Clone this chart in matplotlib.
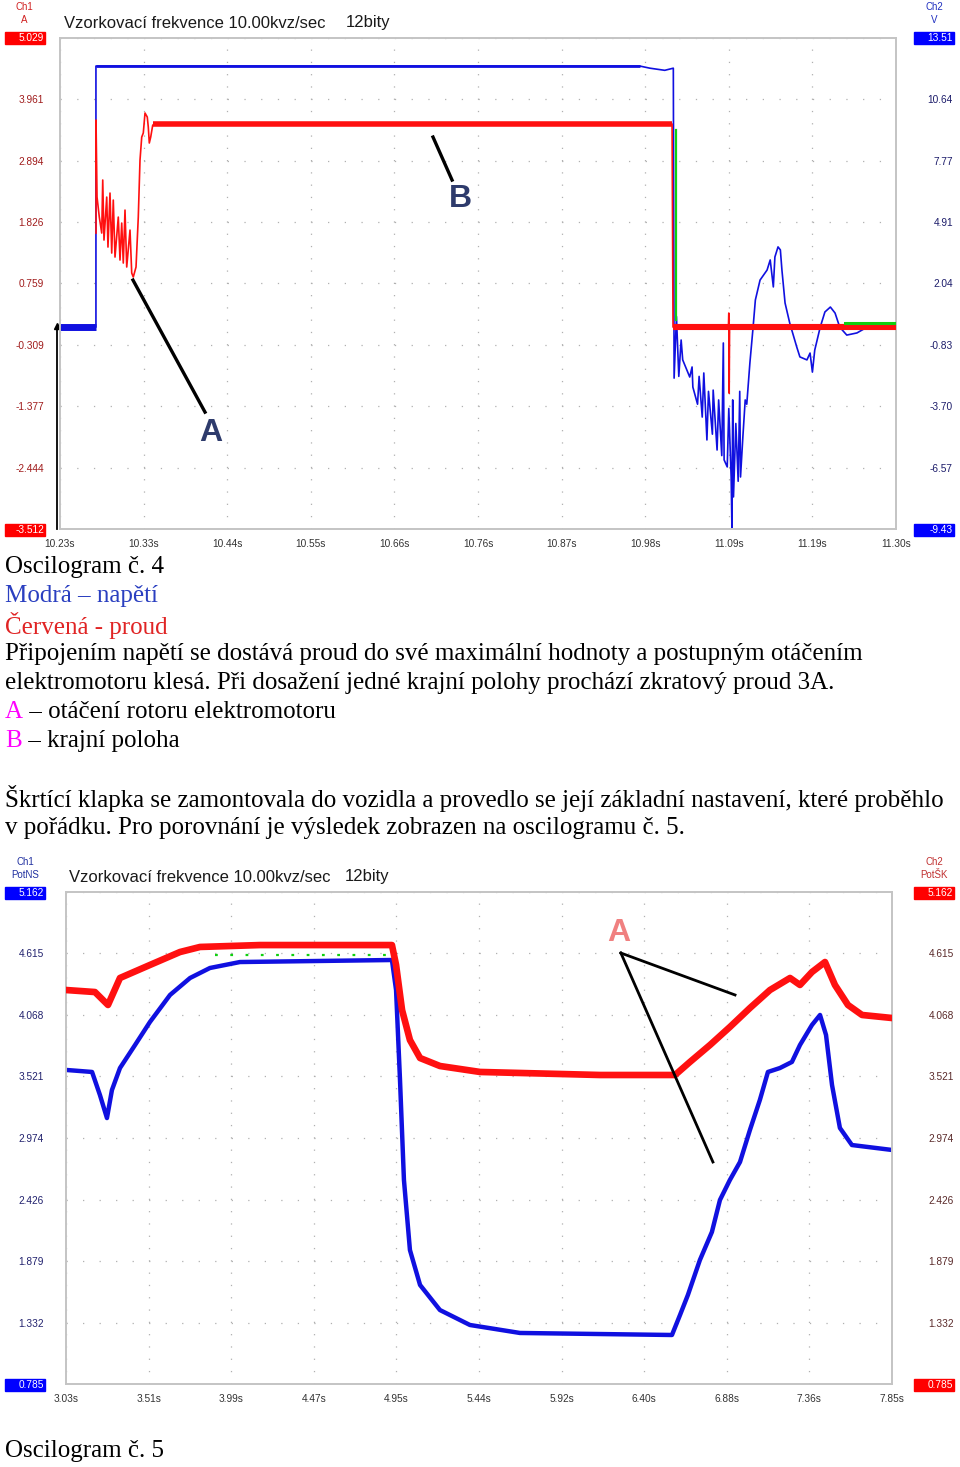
import matplotlib
matplotlib.use("Agg")
import matplotlib.pyplot as plt
import numpy as np
from matplotlib.patches import Rectangle

W, H = 960, 1467
SANS = "Liberation Sans"
SERIF = "Liberation Serif"

plt.rcParams["font.family"] = [SANS, "DejaVu Sans"]
plt.rcParams["lines.scale_dashes"] = False

# --- Oscilogram c. 4 : Ch1 proud [A] (cervena), Ch2 napeti [V] (modra) -----
OSC4_T_LIM = (10.23, 11.30)
OSC4_T_LABELS = ["10.23s", "10.33s", "10.44s", "10.55s", "10.66s", "10.76s",
                 "10.87s", "10.98s", "11.09s", "11.19s", "11.30s"]
OSC4_I_TICKS = [5.029, 3.961, 2.894, 1.826, 0.759, -0.309, -1.377, -2.444, -3.512]
OSC4_I_LABELS = ["5.029", "3.961", "2.894", "1.826", "0.759", "-0.309", "-1.377", "-2.444", "-3.512"]
OSC4_U_TICKS = [13.51, 10.64, 7.77, 4.91, 2.04, -0.83, -3.70, -6.57, -9.43]
OSC4_U_LABELS = ["13.51", "10.64", "7.77", "4.91", "2.04", "-0.83", "-3.70", "-6.57", "-9.43"]

# napeti (modra)
OSC4_U_T = [10.230, 10.276, 10.276, 10.972, 10.985, 11.004, 11.015, 11.016, 11.019, 11.022,
            11.025, 11.027, 11.036, 11.039, 11.040, 11.046, 11.048, 11.052, 11.054, 11.058,
            11.060, 11.065, 11.066, 11.071, 11.073, 11.077, 11.079, 11.080, 11.084, 11.086,
            11.089, 11.090, 11.091, 11.092, 11.095, 11.098, 11.100, 11.101, 11.104, 11.107,
            11.109, 11.113, 11.117, 11.120, 11.126, 11.135, 11.139, 11.143, 11.145, 11.149,
            11.152, 11.154, 11.158, 11.164, 11.173, 11.177, 11.186, 11.190, 11.193, 11.196,
            11.203, 11.209, 11.216, 11.222, 11.228, 11.237, 11.250, 11.263, 11.300]
OSC4_U_V = [0.0, 0.0, 12.2, 12.2, 12.1, 12.0, 12.1, -2.38, 0.5, -2.3,
            -0.6, -1.53, -2.33, -1.86, -2.80, -3.6, -2.3, -4.2, -2.14, -5.27,
            -3.0, -5.0, -2.94, -5.74, -3.4, -6.0, -0.74, -6.2, -6.53, -3.8,
            -7.0, -9.38, -3.4, -7.93, -4.5, -7.2, -3.0, -7.0, -5.13, -3.4,
            -3.6, -1.67, -0.04, 1.27, 2.2, 2.67, 3.14, 1.88, 3.28, 3.75,
            3.61, 2.67, 1.13, 0.19, -0.93, -1.39, -1.53, -1.21, -2.10, -1.07,
            0.0, 0.71, 0.94, 0.66, 0.0, -0.37, -0.27, 0.0, 0.0]

# proud (cervena)
OSC4_I_T = [10.2761, 10.2761, 10.2774, 10.2803, 10.2834, 10.2847, 10.2863, 10.2898, 10.2914, 10.2940,
            10.2962, 10.2982, 10.3004, 10.3046, 10.3068, 10.3090, 10.3110, 10.3132, 10.3154, 10.3196,
            10.3218, 10.3238, 10.3273, 10.3302, 10.3324, 10.3346, 10.3366, 10.3388, 10.3417, 10.3430,
            10.3443, 10.3461, 10.3487, 11.0134, 11.0146, 11.0855, 11.0860, 11.0865, 11.0870, 11.3000]
OSC4_I_V = [1.636, 3.602, 2.262, 1.914, 1.636, 2.558, 1.514, 2.262, 1.392, 2.332,
            1.288, 2.210, 1.218, 1.914, 1.166, 1.810, 1.114, 2.036, 1.045, 1.688,
            0.940, 0.871, 1.045, 1.914, 2.906, 3.306, 3.376, 3.724, 3.654, 3.480,
            3.202, 3.306, 3.515, 3.533, 0.0, 0.0, 0.244, -1.15, 0.0, 0.0]

# treti (zelena) stopa - jen kousky viditelne
OSC4_G_T = [11.018, 11.018]
OSC4_G_V = [3.43, 0.12]
OSC4_G2_T = [11.235, 11.300]
OSC4_G2_V = [0.07, 0.07]

# sum na plochych usecich (sirka pasu v pt)
OSC4_U_BANDS = [([10.230, 10.276], [0.0, 0.0], 5.0), ([10.276, 10.972], [12.2, 12.2], 2.0)]
OSC4_I_BANDS = [([10.349, 11.013], [3.533, 3.533], 4.0), ([11.015, 11.300], [0.0, 0.0], 4.4)]

OSC4_TRIG_T = 10.226
OSC4_A_LINE = ([10.3234, 10.4156], [0.818, -1.479])
OSC4_A_TXT = (10.4233, -1.844)
OSC4_B_LINE = ([10.7074, 10.7318], [3.306, 2.558])
OSC4_B_TXT = (10.742, 2.228)

# --- Oscilogram c. 5 : Ch1 PotNS (modra), Ch2 PotSK (cervena) --------------
OSC5_T_LIM = (3.03, 7.85)
OSC5_T_LABELS = ["3.03s", "3.51s", "3.99s", "4.47s", "4.95s", "5.44s",
                 "5.92s", "6.40s", "6.88s", "7.36s", "7.85s"]
OSC5_TICKS = [5.162, 4.615, 4.068, 3.521, 2.974, 2.426, 1.879, 1.332, 0.785]
OSC5_LABELS = ["5.162", "4.615", "4.068", "3.521", "2.974", "2.426", "1.879", "1.332", "0.785"]

OSC5_B_T = [3.030, 3.182, 3.228, 3.269, 3.298, 3.345, 3.433, 3.520, 3.637, 3.754,
            3.870, 4.045, 4.932, 4.956, 4.979, 5.002, 5.037, 5.096, 5.212, 5.387,
            5.679, 6.566, 6.613, 6.659, 6.729, 6.799, 6.846, 6.904, 6.963, 7.021,
            7.079, 7.126, 7.196, 7.266, 7.313, 7.383, 7.430, 7.465, 7.500, 7.546,
            7.616, 7.850]
OSC5_B_V = [3.579, 3.561, 3.356, 3.151, 3.400, 3.596, 3.801, 4.006, 4.246, 4.397,
            4.486, 4.539, 4.557, 4.290, 3.490, 2.600, 1.977, 1.666, 1.443, 1.310,
            1.239, 1.221, 1.399, 1.577, 1.888, 2.137, 2.422, 2.600, 2.760, 3.045,
            3.312, 3.561, 3.596, 3.650, 3.801, 3.979, 4.068, 3.890, 3.445, 3.063,
            2.911, 2.867]

OSC5_R_T = [3.030, 3.199, 3.275, 3.345, 3.520, 3.695, 3.812, 4.162, 4.932, 4.956,
            4.991, 5.037, 5.096, 5.212, 5.446, 6.146, 6.584, 6.671, 6.788, 6.904,
            7.021, 7.138, 7.255, 7.313, 7.383, 7.459, 7.517, 7.593, 7.675, 7.850]
OSC5_R_V = [4.290, 4.272, 4.157, 4.397, 4.513, 4.628, 4.673, 4.690, 4.690, 4.513,
            4.112, 3.845, 3.685, 3.614, 3.561, 3.534, 3.534, 3.650, 3.801, 3.961,
            4.130, 4.290, 4.397, 4.335, 4.450, 4.539, 4.335, 4.157, 4.068, 4.041]

OSC5_G_T = [3.90, 4.93]
OSC5_G_V = [4.60, 4.60]

OSC5_A_LINES = [([6.268, 6.934], [4.619, 4.246]), ([6.268, 6.805], [4.619, 2.760])]
OSC5_A_TXT = (6.257, 4.797)

# --- text dokumentu ---------------------------------------------------------
BLACK, BLUE_T, RED_T, MAG = "#000000", "#2a3fc0", "#e02424", "#ff00ff"
TEXT_4 = [
    (567, [("Oscilogram č. 4", BLACK)]),
    (596, [("Modrá – napětí", BLUE_T)]),
    (625, [("Červená - proud", RED_T)]),
    (654, [("Připojením napětí se dostává proud do své maximální hodnoty a postupným otáčením", BLACK)]),
    (683, [("elektromotoru klesá. Při dosažení jedné krajní polohy prochází zkratový proud 3A.", BLACK)]),
    (712, [("A", MAG), (" – otáčení rotoru elektromotoru", BLACK)]),
    (741, [("B", MAG), (" – krajní poloha", BLACK)]),
    (799, [("Škrtící klapka se zamontovala do vozidla a provedlo se její základní nastavení, které proběhlo", BLACK)]),
    (828, [("v pořádku. Pro porovnání je výsledek zobrazen na oscilogramu č. 5.", BLACK)]),
    (1451, [("Oscilogram č. 5", BLACK)]),
]

RED, BLUE, GREEN = "#ff1010", "#1010e0", "#10d010"
fig = plt.figure(figsize=(W / 100, H / 100), dpi=100)
fig.patch.set_facecolor("white")


def fx(x):
    return x / W


def fy(y):
    return 1 - y / H


def scope(x0, y0, x1, y1, tlim, tlabels):
    ax = fig.add_axes([fx(x0), fy(y1), (x1 - x0) / W, (y1 - y0) / H])
    ax.set_xlim(*tlim)
    ax.set_xticks(np.linspace(tlim[0], tlim[1], 11), tlabels)
    ax.tick_params(axis="x", length=0, pad=7, labelsize=7.3, labelcolor="#333333")
    for s in ax.spines.values():
        s.set_color("#c4c4c4")
        s.set_linewidth(1.4)
    # tečkovaná mřížka osciloskopu: 5 teček na dílek
    xdiv = (x1 - x0) / 10 / 5 * 0.72
    ydiv = (y1 - y0) / 8 / 5 * 0.72
    ax.xaxis.grid(True, color="#b0b0b0", lw=0.9, linestyle=(0, (0.9, ydiv - 0.9)))
    ax.yaxis.grid(True, color="#b0b0b0", lw=0.9, linestyle=(0, (0.9, xdiv - 0.9)))
    axr = ax.twinx()
    for s in axr.spines.values():
        s.set_visible(False)
    return ax, axr


def yticks(ax, vals, labels, color, pad, right):
    # krajní hodnoty jsou v barevných rámečcích, ne jako popisky
    ax.set_ylim(vals[-1], vals[0])
    ax.set_yticks(vals, [""] + labels[1:-1] + [""])
    ax.tick_params(axis="y", length=0, pad=pad, labelsize=7.3, labelcolor=color)
    if right:
        for lb in ax.get_yticklabels():
            lb.set_horizontalalignment("right")


def vbox(x0, x1, yc, text, color):
    fig.patches.append(Rectangle((fx(x0), fy(yc + 6)), (x1 - x0) / W, 12 / H,
                                 transform=fig.transFigure, color=color, zorder=5))
    fig.text(fx(x1 - 1), fy(yc), text, color="white", fontsize=7.3, ha="right",
             va="center", zorder=6)


def chan(x, y, t1, t2, color):
    fig.text(fx(x), fy(y), t1, color=color, fontsize=7, ha="center", va="center")
    fig.text(fx(x), fy(y + 13), t2, color=color, fontsize=7, ha="center", va="center")


def header(x, y, x2):
    fig.text(fx(x), fy(y), "Vzorkovací frekvence 10.00kvz/sec", fontsize=12,
             color="#1a1a1a", va="center")
    fig.text(fx(x2), fy(y), "12bity", fontsize=12, color="#1a1a1a", va="center")


# ========================= Oscilogram c. 4 ==================================
ax4, ax4r = scope(60, 38, 896, 529, OSC4_T_LIM, OSC4_T_LABELS)
ax4.yaxis.tick_right()
ax4r.yaxis.tick_left()
yticks(ax4, OSC4_U_TICKS, OSC4_U_LABELS, "#1c1c6a", 41, True)
yticks(ax4r, OSC4_I_TICKS, OSC4_I_LABELS, "#a01c1c", 11.5, False)

for t, v, lw in OSC4_U_BANDS:
    ax4.plot(t, v, color=BLUE, lw=lw, solid_capstyle="butt")
ax4.plot(OSC4_U_T, OSC4_U_V, color=BLUE, lw=1.2)
ax4r.plot(OSC4_G_T, OSC4_G_V, color=GREEN, lw=1.6)
for t, v, lw in OSC4_I_BANDS:
    ax4r.plot(t, v, color=RED, lw=lw, solid_capstyle="butt")
ax4r.plot(OSC4_I_T, OSC4_I_V, color=RED, lw=1.2)
ax4r.plot(OSC4_G2_T, OSC4_G2_V, color=GREEN, lw=2.2)

ax4.plot([OSC4_TRIG_T] * 2, [0.05, -9.43], color="black", lw=1.3, clip_on=False)
ax4.plot([OSC4_TRIG_T], [0.05], marker="^", ms=4, color="black", clip_on=False)

ax4r.plot(*OSC4_A_LINE, color="black", lw=2.4)
ax4r.plot(*OSC4_B_LINE, color="black", lw=2.4)
ax4r.text(*OSC4_A_TXT, "A", fontsize=23, fontweight="bold", color="#2e3b6c",
          ha="center", va="center")
ax4r.text(*OSC4_B_TXT, "B", fontsize=23, fontweight="bold", color="#2e3b6c",
          ha="center", va="center")

vbox(5, 45, 38, "5.029", "#ff0000")
vbox(5, 45, 530, "-3.512", "#ff0000")
vbox(914, 954, 38, "13.51", "#0000ff")
vbox(914, 954, 530, "-9.43", "#0000ff")
chan(24, 7, "Ch1", "A", "#d02020")
chan(934, 7, "Ch2", "V", "#2030c0")
header(64, 23, 346)

# ========================= Oscilogram c. 5 ==================================
ax5, ax5r = scope(66, 892, 892, 1384, OSC5_T_LIM, OSC5_T_LABELS)
yticks(ax5, OSC5_TICKS, OSC5_LABELS, "#22226e", 15.8, False)
yticks(ax5r, OSC5_TICKS, OSC5_LABELS, "#5a2a2a", 44.6, True)

ax5.plot(OSC5_B_T, OSC5_B_V, color=BLUE, lw=3.2)
ax5.plot(OSC5_G_T, OSC5_G_V, color=GREEN, lw=1.6, linestyle=(0, (2, 9)))
ax5r.plot(OSC5_R_T, OSC5_R_V, color=RED, lw=4.8)
for t, v in OSC5_A_LINES:
    ax5r.plot(t, v, color="black", lw=2.0)
ax5r.text(*OSC5_A_TXT, "A", fontsize=23, fontweight="bold", color="#f08080",
          ha="center", va="center")

vbox(5, 45, 893, "5.162", "#0000ff")
vbox(5, 45, 1385, "0.785", "#0000ff")
vbox(914, 954, 893, "5.162", "#ff0000")
vbox(914, 954, 1385, "0.785", "#ff0000")
chan(25, 862, "Ch1", "PotNS", "#2030a0")
chan(934, 862, "Ch2", "PotŠK", "#c03030")
header(69, 877, 345)

# ========================= text =============================================
renderer = fig.canvas.get_renderer()
for y, parts in TEXT_4:
    x = 5
    for s, c in parts:
        t = fig.text(fx(x), fy(y), s, color=c, fontsize=18.0, family=SERIF,
                     ha="left", va="center")
        x += t.get_window_extent(renderer).width

fig.savefig("out.png", dpi=100)
